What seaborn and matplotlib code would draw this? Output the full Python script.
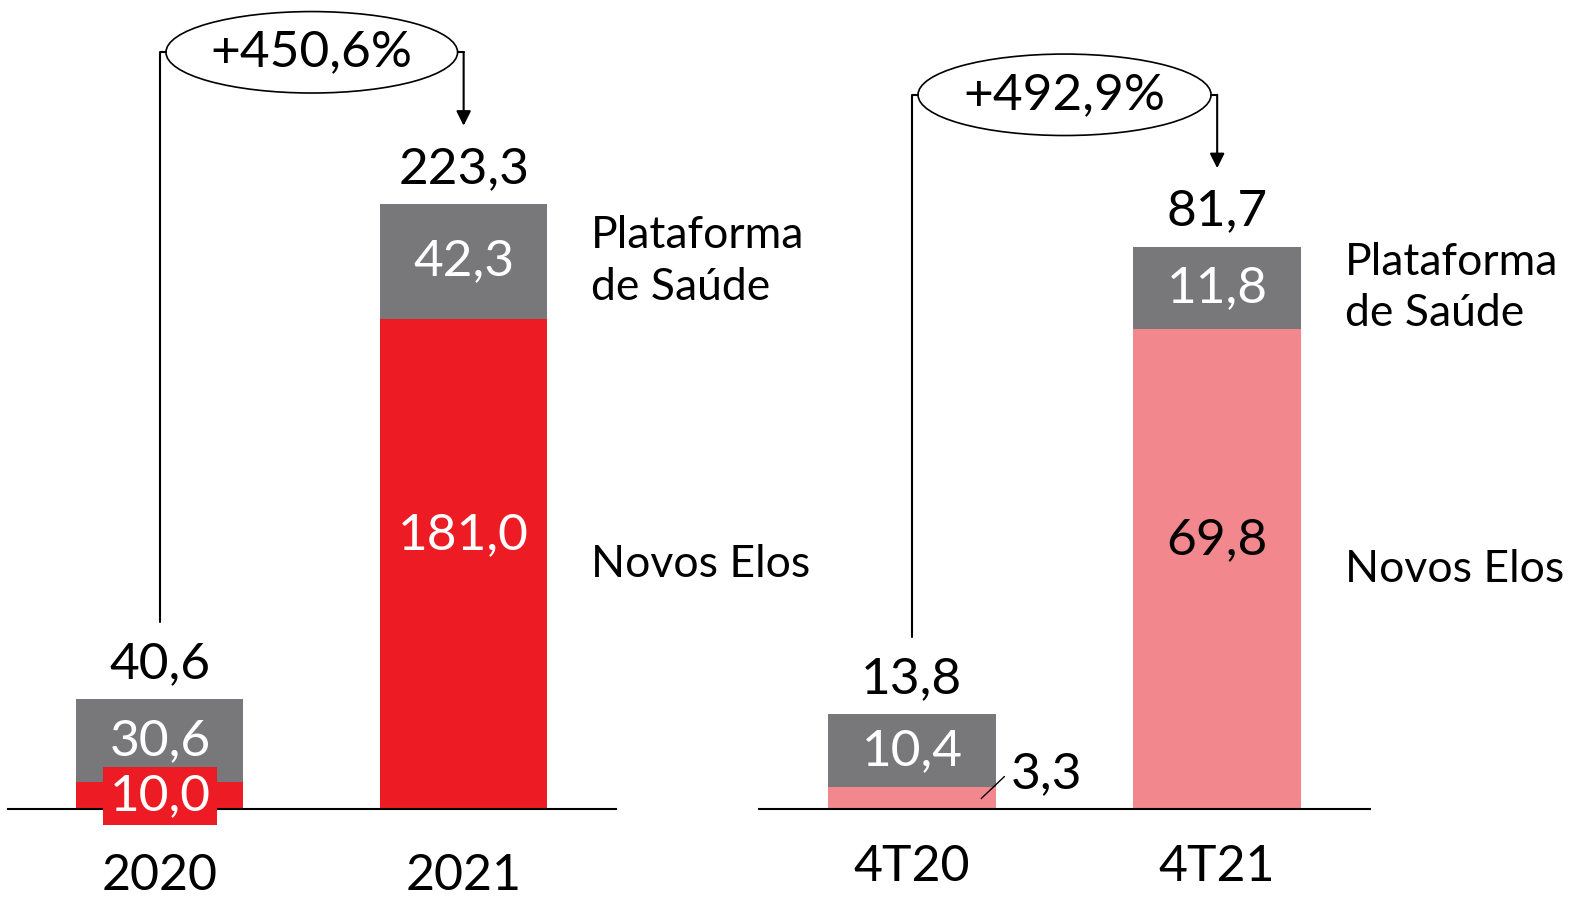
import matplotlib
matplotlib.use("Agg")
import matplotlib.pyplot as plt
from matplotlib.patches import Ellipse
import seaborn as sns

# data
years = ["2020", "2021"]
years_novos = [10.0, 181.0]
years_saude = [30.6, 42.3]
years_total = [40.6, 223.3]
years_growth = "+450,6%"

quarters = ["4T20", "4T21"]
quarters_novos = [3.3, 69.8]
quarters_saude = [10.4, 11.8]
quarters_total = [13.8, 81.7]
quarters_growth = "+492,9%"

RED = "#ED1C24"
PINK = "#F2888D"
GREY = "#78787A"

sns.set_theme(style="white")
plt.rcParams["font.family"] = ["Lato", "DejaVu Sans"]

AX_PX = 805.0  # axes height in pixels (baseline to top)
FS = 37


def fmt(v):
    return f"{v:.1f}".replace(".", ",")


def draw_panel(ax, cats, novos, saude, total, growth, ymax, low_color,
               novos_txt_color, tick_pad, small_first=None):
    px = ymax / AX_PX
    ax.patch.set_alpha(0)
    sns.barplot(x=cats, y=total, color=GREY, saturation=1, width=0.55, ax=ax,
                linewidth=0)
    sns.barplot(x=cats, y=novos, color=low_color, saturation=1, width=0.55,
                ax=ax, linewidth=0)
    ax.set_xlim(-0.5, 1.5)
    ax.set_ylim(0, ymax)
    for s in ["top", "right", "left"]:
        ax.spines[s].set_visible(False)
    ax.spines["bottom"].set_color("black")
    ax.spines["bottom"].set_linewidth(1.5)
    ax.set_yticks([])
    ax.set_ylabel("")
    ax.set_xlabel("")
    ax.tick_params(axis="x", length=0, pad=tick_pad, labelsize=36,
                   labelcolor="black")

    for i in range(2):
        ax.text(i, total[i] + 35 * px, fmt(total[i]), ha="center",
                va="center", fontsize=FS, color="black")
        ax.text(i, novos[i] + saude[i] / 2, fmt(saude[i]), ha="center",
                va="center", fontsize=FS, color="white")
    # bottom segment labels
    if small_first == "box":
        ax.text(0, novos[0] / 2, fmt(novos[0]), ha="center", va="center",
                fontsize=FS, color="white",
                bbox=dict(boxstyle="square,pad=0.12", fc=RED, ec="none"))
    elif small_first == "leader":
        ax.plot([0.227, 0.303], [novos[0] * 0.48, novos[0] * 1.45],
                color="black", lw=1)
        ax.text(0.325, novos[0] * 1.55, fmt(novos[0]), ha="left",
                va="center", fontsize=FS, color="black")
    ax.text(1, novos[1] * 0.56, fmt(novos[1]), ha="center", va="center",
            fontsize=FS, color=novos_txt_color)

    # side labels
    ax.text(1.42, novos[1] + saude[1] / 2, "Plataforma\nde Saúde",
            ha="left", va="center", fontsize=32, color="black",
            linespacing=1.32)
    ax.text(1.42, novos[1] / 2, "Novos Elos", ha="left", va="center",
            fontsize=32, color="black")

    # growth bracket
    by = total[1] + 151 * px
    start = total[0] + 77 * px
    tip = total[1] + 78 * px
    ax.plot([0, 0, 0.02], [start, by, by], color="black", lw=1.5,
            clip_on=False)
    ax.plot([0.98, 1], [by, by], color="black", lw=1.5, clip_on=False)
    ax.annotate("", xy=(1, tip), xytext=(1, by),
                arrowprops=dict(arrowstyle="-|>", color="black", lw=1.5,
                                mutation_scale=22, shrinkA=0, shrinkB=0),
                annotation_clip=False)
    ax.add_patch(Ellipse((0.5, by), 0.96, 81 * px, fill=False,
                         ec="black", lw=1.2, clip_on=False))
    ax.text(0.5, by, growth, ha="center", va="center", fontsize=37,
            color="black")


fig = plt.figure(figsize=(15.77, 8.99), dpi=100)
ax1 = fig.add_axes([0.0051, 0.0996, 0.3852, 0.9004])
ax2 = fig.add_axes([0.4815, 0.0996, 0.3871, 0.9004])

draw_panel(ax1, years, years_novos, years_saude, years_total, years_growth,
           298.6, RED, "white", 31, small_first="box")
draw_panel(ax2, quarters, quarters_novos, quarters_saude, quarters_total,
           quarters_growth, 117.5, PINK, "black", 25, small_first="leader")

fig.savefig("out.png", dpi=100)
